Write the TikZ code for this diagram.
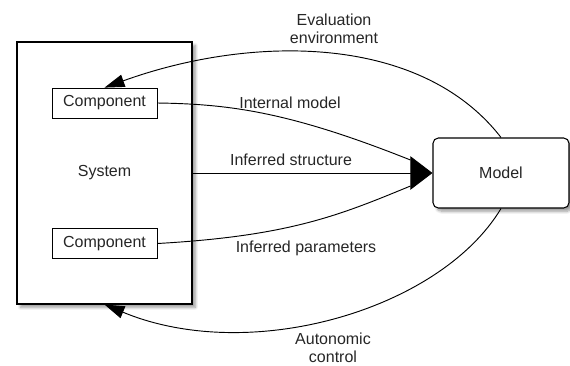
\documentclass[tikz,border=0pt]{standalone}
\usepackage{fontspec}
\setmainfont{Liberation Sans}
\usetikzlibrary{arrows.meta,calc,shadows.blur}

\tikzset{
  lbl/.style={font=\fontsize{12}{13.5}\selectfont, text=black!85, align=center, inner sep=0pt},
  sysbox/.style={draw, line width=0.8pt, fill=white, minimum width=131.25pt, minimum height=196.5pt,
    blur shadow={shadow xshift=2.5pt, shadow yshift=-2.5pt, shadow blur steps=8, shadow opacity=40}},
  modelbox/.style={draw, line width=0.8pt, fill=white, rounded corners=4pt, minimum width=102pt, minimum height=52.5pt,
    blur shadow={shadow xshift=2.5pt, shadow yshift=-2.5pt, shadow blur steps=8, shadow opacity=40}},
  compbox/.style={draw, line width=0.6pt, fill=white, minimum width=78.75pt, minimum height=22.5pt},
  link/.style={line width=0.7pt},
  smalltip/.style={-{Triangle[length=15pt, width=9.5pt]}},
  bigtip/.style={-{Triangle[length=16.5pt, width=25pt]}}
}

\begin{document}
\begin{tikzpicture}[x=0.75pt, y=-0.75pt]
  \useasboundingbox (0,0) rectangle (570,365);

  % boxes
  \node[sysbox, lbl] (sys) at (104.5,173) {System};
  \node[compbox, lbl] (comp1) at (104.5,103) {Component};
  \node[compbox, lbl] (comp2) at (104.5,243.5) {Component};
  \node[modelbox, lbl] (model) at (501,173) {Model};

  % ends of the curved inputs at the base of the big arrowhead
  \coordinate (inUp) at ($(model.west)+(-22,-13)$);
  \coordinate (inDown) at ($(model.west)+(-22,13)$);

  % system -> model
  \draw[link, bigtip] (sys.east) -- (model.west);
  \draw[link] (comp1.east) .. controls (230,104) and (290,112) .. (inUp);
  \draw[link] (comp2.east) .. controls (290,236) and (340,215) .. (inDown);

  % model -> system
  \draw[link, smalltip] (model.north) .. controls (420,33) and (250,35) .. (comp1.north);
  \draw[link, smalltip] (model.south) .. controls (440,310) and (250,365) .. (sys.south);

  % labels
  \node[lbl] (lEval) at (334,29) {Evaluation\\environment};
  \node[lbl] (lInt) at (290,103) {Internal model};
  \node[lbl] (lStr) at (291,160) {Inferred structure};
  \node[lbl] (lPar) at (306,248) {Inferred parameters};
  \node[lbl] (lAut) at (333,348) {Autonomic\\control};
\end{tikzpicture}
\end{document}
